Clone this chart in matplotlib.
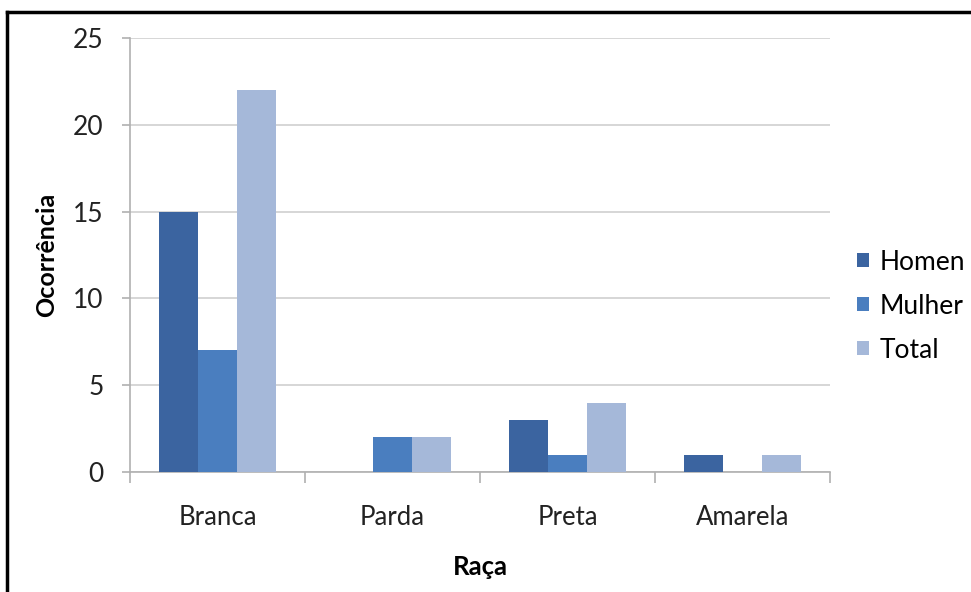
import matplotlib
matplotlib.use("Agg")
import matplotlib.pyplot as plt
from matplotlib.lines import Line2D
import numpy as np

plt.rcParams['font.family'] = ['Lato', 'DejaVu Sans']

categorias = ["Branca", "Parda", "Preta", "Amarela"]
homen = [15, 0, 3, 1]
mulher = [7, 2, 1, 0]
total = [22, 2, 4, 1]
series = ["Homen", "Mulher", "Total"]
cores = ["#3b64a0", "#4a7ebf", "#a5b8d9"]

fig = plt.figure(figsize=(9.71, 5.92), dpi=100)
ax = fig.add_axes([130 / 971, 0.2027, 700 / 971, 0.7331])

x = np.arange(len(categorias))
w = 0.223
for i, (vals, nome, cor) in enumerate(zip([homen, mulher, total], series, cores)):
    ax.bar(x + (i - 1) * w, vals, width=w, color=cor, label=nome, zorder=3)

ax.set_xlim(-0.5, len(categorias) - 0.5)
ax.set_ylim(0, 25)
ax.set_yticks([0, 5, 10, 15, 20, 25])
ax.yaxis.grid(True, color="#d0d0d0", linewidth=1.2, zorder=0)

# ticks between categories
ax.set_xticks(np.arange(-0.5, len(categorias)), minor=False)
ax.set_xticklabels([])
ax.set_xticks(x, minor=True)
ax.set_xticklabels(categorias, minor=True, fontsize=18.5, color="#222222")
ax.tick_params(axis="x", which="major", length=8, color="#b0b0b0", width=1.2)
ax.tick_params(axis="x", which="minor", length=0, pad=24)
ax.tick_params(axis="y", length=6, color="#b0b0b0", width=1.2, labelsize=19,
               labelcolor="#222222", pad=13)

for s in ["top", "right"]:
    ax.spines[s].set_visible(False)
for s in ["left", "bottom"]:
    ax.spines[s].set_color("#b0b0b0")
    ax.spines[s].set_linewidth(1.2)

ax.set_ylabel("Ocorrência", fontsize=18, fontweight="bold", labelpad=11)
ax.set_xlabel("Raça", fontsize=18.5, fontweight="bold", labelpad=18)

fig.legend(loc="center left", bbox_to_anchor=(857 / 971, 1 - 306 / 592), frameon=False,
           fontsize=19, handlelength=0.45, handleheight=0.45, handletextpad=0.4,
           labelspacing=0.72, borderaxespad=0, borderpad=0)

# frame around chart (top and left edges visible)
fig.add_artist(Line2D([7 / 971, 7 / 971], [0, 1 - 12 / 592], color="black", linewidth=2.5))
fig.add_artist(Line2D([7 / 971, 1], [1 - 12 / 592, 1 - 12 / 592], color="black", linewidth=2.5))

fig.savefig("out.png", dpi=100)
